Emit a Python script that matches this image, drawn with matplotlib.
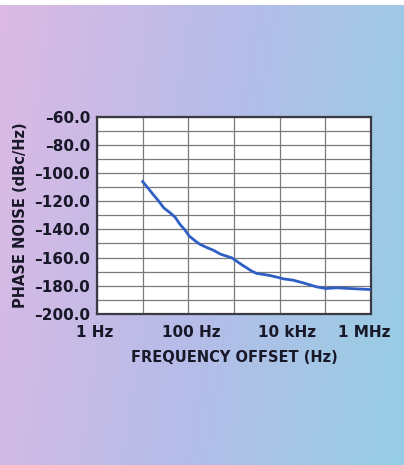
import numpy as np
import matplotlib
matplotlib.use("Agg")
import matplotlib.pyplot as plt
import matplotlib.transforms as mtransforms

# phase noise curve
freq_hz = [10, 13, 17, 22, 29, 40, 52, 66, 85, 105, 140, 182, 260, 355, 500,
           690, 900, 1150, 1500, 1900, 2500, 3160, 4500, 6170, 9000, 12000,
           20000, 33100, 64600, 102000, 178000, 347000, 955000]
noise_dbc = [-106.0, -110.5, -115.2, -119.5, -124.7, -128.2, -131.5, -136.5,
             -140.5, -144.8, -148.0, -150.7, -153.0, -154.8, -157.5, -159.0,
             -160.2, -162.6, -165.2, -167.3, -169.8, -171.3, -172.0, -172.8,
             -174.0, -175.1, -176.1, -178.0, -180.8, -182.0, -181.5, -182.0,
             -182.7]

x_ticks = [1, 100, 1e4, 1e6]
x_labels = ["1 Hz", "100 Hz", "10 kHz", "1 MHz"]
y_ticks = [-60, -80, -100, -120, -140, -160, -180, -200]

plt.rcParams['font.family'] = ['DejaVu Sans']

fig = plt.figure(figsize=(4.04, 4.65), dpi=100)

# gradient background
bg = fig.add_axes([0, 0, 1, 1], zorder=-10)
w, h = 404, 465
xx = np.linspace(0, 1, w)[None, :]
yy = np.linspace(0, 1, h)[:, None]
t = np.clip(xx * 0.85 + yy * 0.15, 0, 1)
left = np.array([220, 186, 228]) / 255
mid = np.array([182, 188, 232]) / 255
right = np.array([150, 206, 228]) / 255
img = np.where(t[..., None] < 0.5,
               left + (mid - left) * (t[..., None] / 0.5),
               mid + (right - mid) * ((t[..., None] - 0.5) / 0.5))
img[:6, :, :] = 1.0
bg.imshow(img, aspect='auto', extent=[0, 1, 0, 1], origin='upper')
bg.axis('off')

ax = fig.add_axes([0.240, 0.325, 0.678, 0.424])
ax.set_facecolor('white')
ax.plot(freq_hz, noise_dbc, color='#2f5fc4', lw=2.0, zorder=3)

ax.set_xscale('log')
ax.set_xlim(1, 1e6)
ax.set_ylim(-200, -60)

ax.set_xticks(x_ticks)
ax.set_xticklabels(x_labels)
ax.set_xticks([10, 1e3, 1e5], minor=True)
ax.xaxis.set_minor_formatter(matplotlib.ticker.NullFormatter())
ax.set_yticks(y_ticks)
ax.set_yticklabels(["\u2013%.1f" % abs(v) for v in y_ticks])
ax.set_yticks(np.arange(-190, -60, 20), minor=True)

ax.tick_params(axis='both', which='both', length=0, labelsize=11,
               labelcolor='#181828')
ax.tick_params(axis='y', pad=5)
ax.tick_params(axis='x', pad=8)
for lab in ax.get_xticklabels() + ax.get_yticklabels():
    lab.set_fontweight('bold')

# nudge x labels like the original
for lab, dx in zip(ax.get_xticklabels(), [-2, 3, 7, -7]):
    lab.set_transform(lab.get_transform() +
                      mtransforms.ScaledTranslation(dx / 100, 0, fig.dpi_scale_trans))

ax.grid(True, which='both', color='#7a7a7a', lw=0.9)
ax.set_axisbelow(True)
for s in ax.spines.values():
    s.set_color('#3a3a44')
    s.set_linewidth(1.6)

ax.set_xlabel("FREQUENCY OFFSET (Hz)", fontsize=10.5, fontweight='bold',
              color='#181828', labelpad=7)
ax.set_ylabel("PHASE NOISE (dBc/Hz)", fontsize=10.5, fontweight='bold',
              color='#181828', labelpad=4)

fig.savefig("out.png", dpi=100)
